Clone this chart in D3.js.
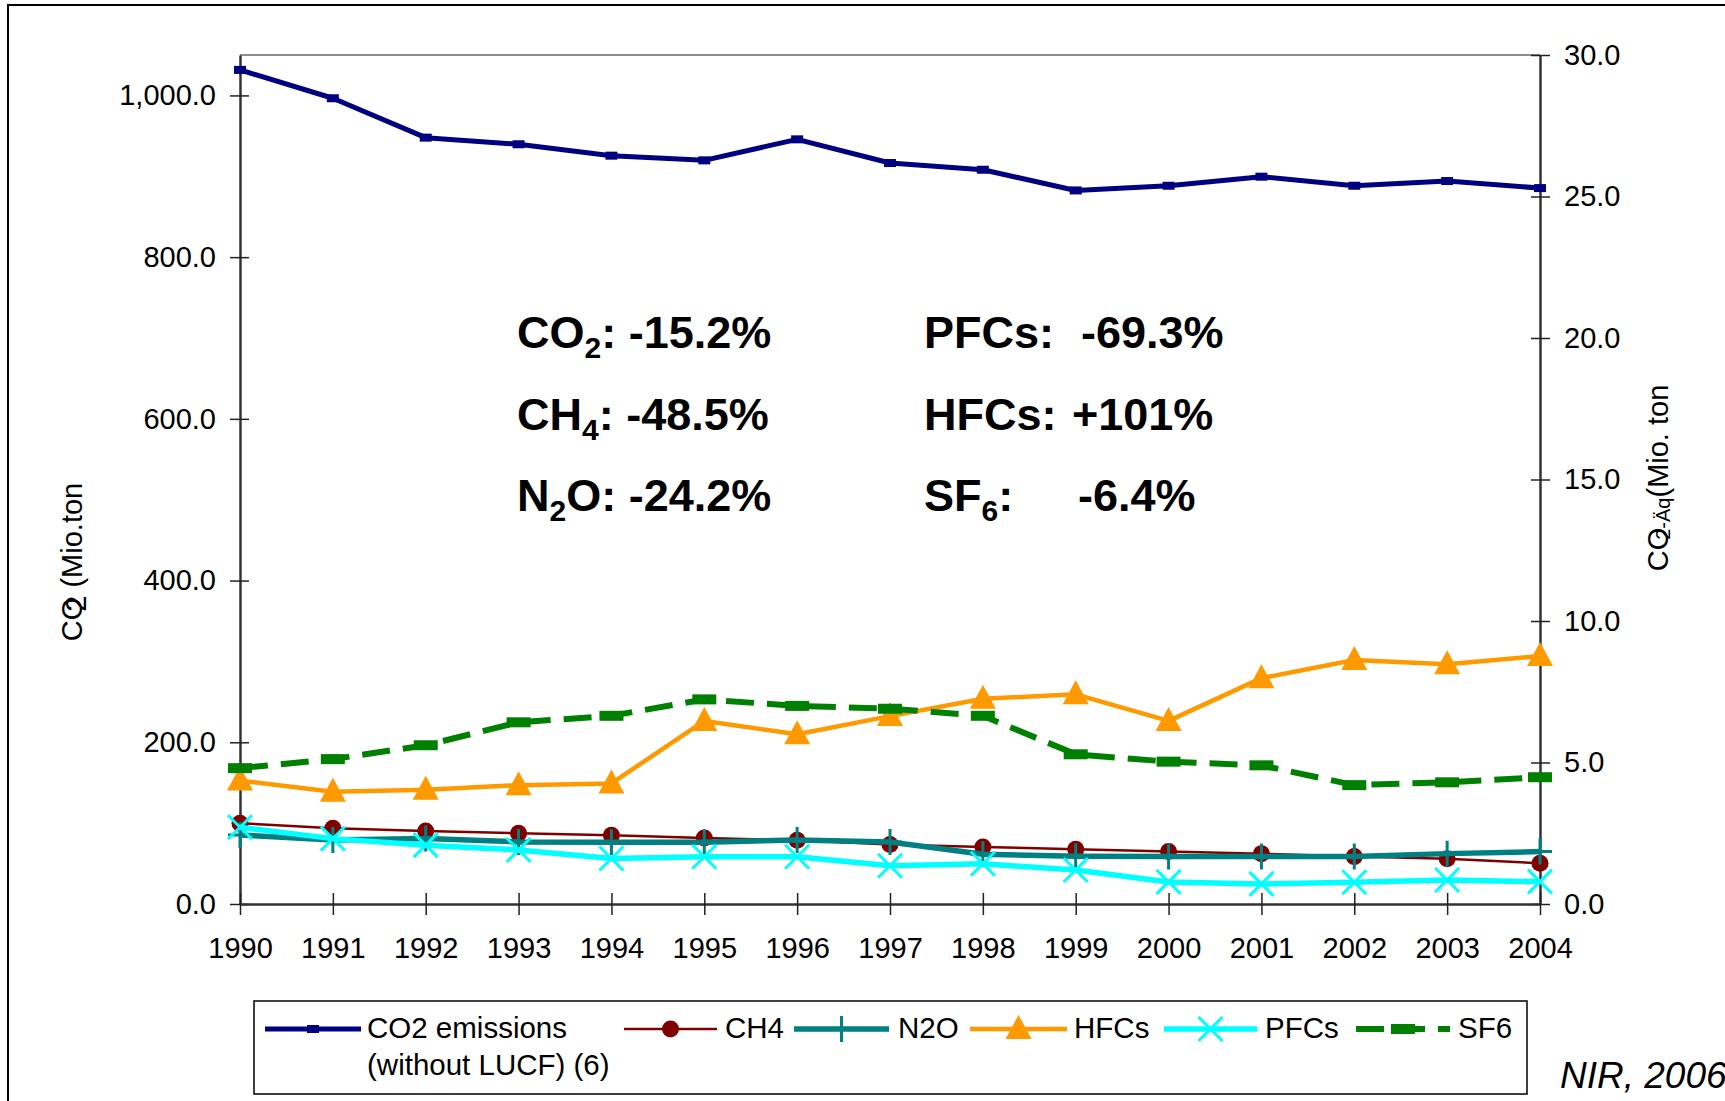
<!DOCTYPE html>
<html>
<head>
<meta charset="utf-8">
<script src="https://cdn.jsdelivr.net/npm/d3@7"></script>
<style>
  html, body { margin: 0; padding: 0; background: #fff; }
  svg { display: block; }
  text { font-family: "Liberation Sans", Arial, sans-serif; fill: #000; }
</style>
</head>
<body>
<svg id="chart" width="1725" height="1101"></svg>
<script>
// ---- data ----
const years = [1990,1991,1992,1993,1994,1995,1996,1997,1998,1999,2000,2001,2002,2003,2004];
const co2  = [1031.6,996.5,947.8,939.6,925.5,919.7,945.7,916.4,908.1,882.5,888.3,899.5,888.3,894.1,885.4];
const ch4  = [99.9,93.7,90.4,87.5,85.0,81.7,78.9,73.5,70.6,67.7,64.8,62.3,58.6,56.1,50.4];
const n2o  = [85.4,79.3,80.9,76.8,76.4,76.4,79.3,76.8,61.5,59.0,58.6,58.6,58.6,62.3,64.8];
const hfcs = [4.36,3.97,4.04,4.20,4.26,6.47,6.00,6.64,7.25,7.41,6.47,7.98,8.62,8.47,8.76];
const pfcs = [2.71,2.31,2.08,1.91,1.61,1.67,1.67,1.35,1.42,1.20,0.78,0.71,0.77,0.85,0.79];
const sf6  = [4.80,5.12,5.61,6.42,6.65,7.23,7.00,6.90,6.65,5.29,5.03,4.90,4.20,4.30,4.48];
const leftTicks  = [0,200,400,600,800,1000];
const rightTicks = [0,5,10,15,20,25,30];
const leftTitle  = ["CO", "2", " (Mio.ton"];
const rightTitle = ["CO", "2-Äq", "(Mio. ton"];
const notes = [
  {a:"CO", s:"2", b:": -15.2%"},
  {a:"CH", s:"4", b:": -48.5%"},
  {a:"N",  s:"2", b:"O: -24.2%"},
];
const notes2 = [
  {a:"PFCs:", s:"", b:"", v:"-69.3%"},
  {a:"HFCs:", s:"", b:"", v:"+101%"},
  {a:"SF", s:"6", b:":", v:"-6.4%"},
];
const legendLabels = ["CO2 emissions", "CH4", "N2O", "HFCs", "PFCs", "SF6"];
const legendLine2 = "(without LUCF) (6)";

// ---- layout ----
const svg = d3.select("#chart");
const L = 240, R = 1540, T = 55, B = 904;

svg.append("rect").attr("x", 8).attr("y", 5).attr("width", 1800).attr("height", 1200)
  .attr("fill", "#fff").attr("stroke", "#000").attr("stroke-width", 2);

const x = d3.scalePoint().domain(years).range([L, R]).padding(0);
const yL = d3.scaleLinear().domain([0, 1050]).range([B, T]);
const yR = d3.scaleLinear().domain([0, 30]).range([B, T]);

// plot top border
svg.append("line").attr("x1", L).attr("x2", R).attr("y1", T).attr("y2", T)
  .attr("stroke", "#8c8c8c").attr("stroke-width", 2);

// axes
const fontSize = 29;
const gL = svg.append("g").attr("transform", `translate(${L},0)`)
  .call(d3.axisLeft(yL).tickValues(leftTicks).tickFormat(d3.format(",.1f"))
        .tickSizeInner(10).tickSizeOuter(0).tickPadding(14));
gL.selectAll(".tick line").attr("x1", 9);
const gR = svg.append("g").attr("transform", `translate(${R},0)`)
  .call(d3.axisRight(yR).tickValues(rightTicks).tickFormat(d3.format(".1f"))
        .tickSizeInner(10).tickSizeOuter(0).tickPadding(14));
gR.selectAll(".tick line").attr("x1", -9);
const gB = svg.append("g").attr("transform", `translate(0,${B})`)
  .call(d3.axisBottom(x).tickSizeInner(11).tickSizeOuter(0).tickPadding(22));
gB.selectAll(".tick line").attr("y1", -11);
[gL, gR, gB].forEach(g => {
  g.select(".domain").attr("stroke", "#333").attr("stroke-width", 2.5);
  g.selectAll(".tick line").attr("stroke", "#222").attr("stroke-width", 1.5);
  g.selectAll("text").attr("font-size", fontSize).attr("font-family", "Liberation Sans, Arial, sans-serif").attr("fill", "#000");
});

// axis titles
const lt = svg.append("text").attr("transform", "translate(82,562) rotate(-90)")
  .attr("text-anchor", "middle").attr("font-size", 29);
lt.append("tspan").text(leftTitle[0]);
lt.append("tspan").text(leftTitle[1]).attr("dx", -14).attr("dy", 4);
lt.append("tspan").text(leftTitle[2]).attr("dy", -4);

const rt = svg.append("text").attr("transform", "translate(1668,478) rotate(-90)")
  .attr("text-anchor", "middle").attr("font-size", 29);
rt.append("tspan").text(rightTitle[0]);
rt.append("tspan").text(rightTitle[1]).attr("font-size", 20).attr("dx", -12).attr("dy", 2);
rt.append("tspan").text(rightTitle[2]).attr("dy", -2);

// ---- series ----
const plot = svg.append("g");
function drawLine(vals, ys, color, width, dash) {
  const line = d3.line().x((d,i) => x(years[i])).y(d => ys(d));
  plot.append("path").datum(vals).attr("d", line).attr("fill", "none")
    .attr("stroke", color).attr("stroke-width", width)
    .attr("stroke-linejoin", "round")
    .attr("stroke-dasharray", dash || null);
}
function marker(g, type, cx, cy, color) {
  if (type === "rect") {
    g.append("rect").attr("x", cx-6).attr("y", cy-4).attr("width", 12).attr("height", 8).attr("fill", color);
  } else if (type === "dash") {
    g.append("rect").attr("x", cx-12).attr("y", cy-5).attr("width", 24).attr("height", 10).attr("fill", color);
  } else if (type === "circle") {
    g.append("circle").attr("cx", cx).attr("cy", cy).attr("r", 8.5).attr("fill", color);
  } else if (type === "plus") {
    g.append("path").attr("d", `M${cx},${cy-13}V${cy+13}M${cx-12},${cy}H${cx+12}`)
      .attr("stroke", color).attr("stroke-width", 3);
  } else if (type === "tri") {
    g.append("path").attr("d", `M${cx},${cy-14}L${cx+13},${cy+10}L${cx-13},${cy+10}Z`).attr("fill", color);
  } else if (type === "x") {
    g.append("path").attr("d", `M${cx-12},${cy-12}L${cx+12},${cy+12}M${cx+12},${cy-12}L${cx-12},${cy+12}`)
      .attr("stroke", color).attr("stroke-width", 3);
  }
}
const series = [
  {vals: co2,  ys: yL, color: "#000080", w: 5, m: "rect"},
  {vals: ch4,  ys: yL, color: "#800000", w: 2.5, m: "circle"},
  {vals: n2o,  ys: yL, color: "#008080", w: 5.5, m: "plus"},
  {vals: hfcs, ys: yR, color: "#FF9900", w: 4.5, m: "tri"},
  {vals: pfcs, ys: yR, color: "#00FFFF", w: 5.5, m: "x"},
  {vals: sf6,  ys: yR, color: "#008000", w: 6, m: "dash", dash: "28,13"},
];
series.forEach(s => {
  drawLine(s.vals, s.ys, s.color, s.w, s.dash);
  const g = plot.append("g");
  s.vals.forEach((v,i) => marker(g, s.m, x(years[i]), s.ys(v), s.color));
});

// ---- annotations ----
const noteY = [348, 430, 511];
notes.forEach((n,i) => {
  const t = svg.append("text").attr("x", 517).attr("y", noteY[i])
    .attr("font-size", 45).attr("font-weight", "bold");
  t.append("tspan").text(n.a);
  t.append("tspan").text(n.s).attr("font-size", 30).attr("dy", 10);
  t.append("tspan").text(n.b).attr("dy", -10);
});
notes2.forEach((n,i) => {
  const t = svg.append("text").attr("x", 924).attr("y", noteY[i])
    .attr("font-size", 45).attr("font-weight", "bold");
  if (n.s) {
    t.append("tspan").text(n.a);
    t.append("tspan").text(n.s).attr("font-size", 30).attr("dy", 10);
    t.append("tspan").text(n.b).attr("dy", -10);
  } else {
    t.text(n.a);
  }
  const vx = [1081, 1072, 1078][i];
  svg.append("text").attr("x", vx).attr("y", noteY[i])
    .attr("font-size", 45).attr("font-weight", "bold").text(n.v);
});

// ---- legend ----
svg.append("rect").attr("x", 254).attr("y", 1001).attr("width", 1273).attr("height", 93)
  .attr("fill", "#fff").attr("stroke", "#000").attr("stroke-width", 1.5);
const legX = [[265,361,367],[624,717,725],[794,889,898],[970,1067,1074],[1164,1257,1265],[1356,1450,1458]];
const ly = 1029;
series.forEach((s,i) => {
  const [x1,x2,tx] = legX[i];
  svg.append("line").attr("x1", x1).attr("x2", x2).attr("y1", ly).attr("y2", ly)
    .attr("stroke", s.color).attr("stroke-width", s.w).attr("stroke-dasharray", s.dash || null);
  marker(svg, s.m, (x1+x2)/2, ly, s.color);
  svg.append("text").attr("x", tx).attr("y", 1038).attr("font-size", 29.5).text(legendLabels[i]);
});
svg.append("text").attr("x", 367).attr("y", 1075).attr("font-size", 29.5).text(legendLine2);

svg.append("text").attr("x", 1560).attr("y", 1088).attr("font-size", 37)
  .attr("font-style", "italic").text("NIR, 2006");
</script>
</body>
</html>
